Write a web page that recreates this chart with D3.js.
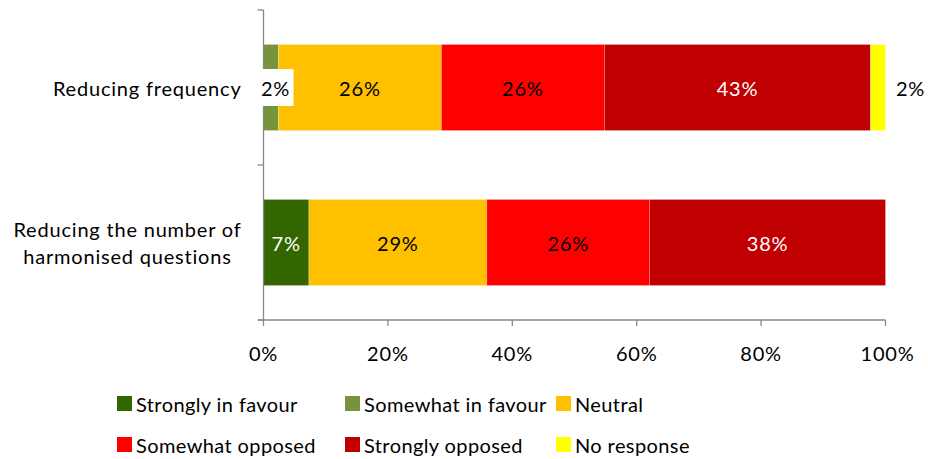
<!DOCTYPE html>
<html>
<head>
<meta charset="utf-8">
<script src="https://cdn.jsdelivr.net/npm/d3@7"></script>
<style>
  html, body { margin: 0; padding: 0; background: #fff; }
  svg { display: block; font-family: "Lato", "Liberation Sans", sans-serif; letter-spacing: 0.8px; }
  .legend text { letter-spacing: 0.4px; }
</style>
</head>
<body>
<svg id="chart" width="928" height="459"></svg>
<script>
// Survey results: views on two options, share of responses (%)
const categories = ["Reducing frequency", "Reducing the number of harmonised questions"];
const seriesNames = ["Strongly in favour", "Somewhat in favour", "Neutral", "Somewhat opposed", "Strongly opposed", "No response"];
const seriesColors = ["#336600", "#77933C", "#FFC000", "#FF0000", "#C00000", "#FFFF00"];
const labelColors = ["#fff", "#000", "#000", "#000", "#fff", "#000"];
// values per series, one entry per category
const stronglyInFavour = [0, 7.3];
const somewhatInFavour = [2.4, 0];
const neutral = [26.2, 28.6];
const somewhatOpposed = [26.2, 26.2];
const stronglyOpposed = [42.8, 37.9];
const noResponse = [2.4, 0];
const xTickValues = [0, 20, 40, 60, 80, 100];

const seriesValues = [stronglyInFavour, somewhatInFavour, neutral, somewhatOpposed, stronglyOpposed, noResponse];

const svg = d3.select("#chart");
const plot = { left: 263.5, right: 885.5, top: 10, bottom: 320 };

const x = d3.scaleLinear().domain([0, 100]).range([plot.left, plot.right]);
const y = d3.scaleBand().domain(categories).range([plot.top, plot.bottom])
  .paddingInner(0.445).paddingOuter(0.2225);

// rows for the stack
const rows = categories.map((c, i) => {
  const r = { category: c };
  seriesNames.forEach((s, j) => { r[s] = seriesValues[j][i]; });
  return r;
});
const stacked = d3.stack().keys(seriesNames)(rows);

const fontSize = 20;

// bars
const layers = svg.append("g").selectAll("g").data(stacked).join("g")
  .attr("fill", (d, i) => seriesColors[i]);
layers.selectAll("rect").data(d => d.filter(p => p[1] - p[0] > 0)).join("rect")
  .attr("x", d => x(d[0]))
  .attr("y", d => y(d.data.category))
  .attr("width", d => x(d[1]) - x(d[0]))
  .attr("height", y.bandwidth())
  .attr("stroke", "rgba(255,255,255,0.35)")
  .attr("stroke-width", 0.6);

// value axis
const xAxisG = svg.append("g");
xAxisG.append("line")
  .attr("x1", plot.left - 5).attr("x2", plot.right)
  .attr("y1", plot.bottom).attr("y2", plot.bottom)
  .attr("stroke", "#888").attr("stroke-width", 1.3);
xAxisG.selectAll(".xt").data(xTickValues).join("line")
  .attr("x1", d => x(d)).attr("x2", d => x(d))
  .attr("y1", plot.bottom).attr("y2", plot.bottom + 6)
  .attr("stroke", "#888").attr("stroke-width", 1.3);
xAxisG.selectAll(".xl").data(xTickValues).join("text")
  .attr("x", d => x(d) + (d === 100 ? 2 : 0))
  .attr("y", plot.bottom + 33)
  .attr("text-anchor", "middle")
  .attr("dominant-baseline", "central")
  .attr("font-size", fontSize)
  .attr("fill", "#000")
  .text(d => d + "%");

// category axis with ticks at the band boundaries
const yAxisG = svg.append("g");
yAxisG.append("line")
  .attr("x1", plot.left).attr("x2", plot.left)
  .attr("y1", plot.top).attr("y2", plot.bottom)
  .attr("stroke", "#888").attr("stroke-width", 1.3);
const tickYs = [plot.top, plot.top + y.step(), plot.bottom];
yAxisG.selectAll(".yt").data(tickYs).join("line")
  .attr("x1", plot.left - 6).attr("x2", plot.left)
  .attr("y1", d => d).attr("y2", d => d)
  .attr("stroke", "#888").attr("stroke-width", 1.3);

// category labels: wrapped, lines centred within a right-aligned block
const catLines = [["Reducing frequency"], ["Reducing the number of", "harmonised questions"]];
const lineH = 27;
categories.forEach((c, i) => {
  const g = yAxisG.append("g");
  const lines = catLines[i];
  const texts = lines.map((ln, k) => g.append("text")
    .attr("font-size", fontSize).attr("fill", "#000")
    .attr("text-anchor", "middle")
    .attr("dominant-baseline", "central")
    .attr("y", y(c) + y.bandwidth() / 2 + (k - (lines.length - 1) / 2) * lineH)
    .text(ln));
  const maxW = d3.max(texts, t => t.node().getComputedTextLength());
  const right = plot.left - 22;
  texts.forEach(t => t.attr("x", right - maxW / 2));
});

// value labels
const labelG = svg.append("g");
stacked.forEach((layer, j) => {
  layer.forEach(p => {
    const v = p[1] - p[0];
    if (v <= 0) return;
    const cy = y(p.data.category) + y.bandwidth() / 2;
    let cx = (x(p[0]) + x(p[1])) / 2;
    const txt = Math.round(v) + "%";
    if (seriesNames[j] === "Somewhat in favour") {
      cx = x(p[0]) + 12;
      labelG.append("rect")
        .attr("x", cx - 18).attr("y", cy - 18.5)
        .attr("width", 36).attr("height", 37)
        .attr("fill", "#fff");
    } else if (seriesNames[j] === "No response") {
      cx = x(p[1]) + 25;
    }
    labelG.append("text")
      .attr("x", cx).attr("y", cy)
      .attr("text-anchor", "middle")
      .attr("dominant-baseline", "central")
      .attr("font-size", fontSize)
      .attr("fill", labelColors[j])
      .text(txt);
  });
});

// legend
const legendCols = [117, 345, 556];
const legendRows = [404, 445];
const legend = svg.append("g").attr("class", "legend");
seriesNames.forEach((s, i) => {
  const lx = legendCols[i % 3], ly = legendRows[Math.floor(i / 3)];
  legend.append("rect")
    .attr("x", lx).attr("y", ly - 8)
    .attr("width", 15).attr("height", 15)
    .attr("fill", seriesColors[i]);
  legend.append("text")
    .attr("x", lx + 19).attr("y", ly)
    .attr("dominant-baseline", "central")
    .attr("font-size", fontSize)
    .attr("fill", "#000")
    .text(s);
});
</script>
</body>
</html>
